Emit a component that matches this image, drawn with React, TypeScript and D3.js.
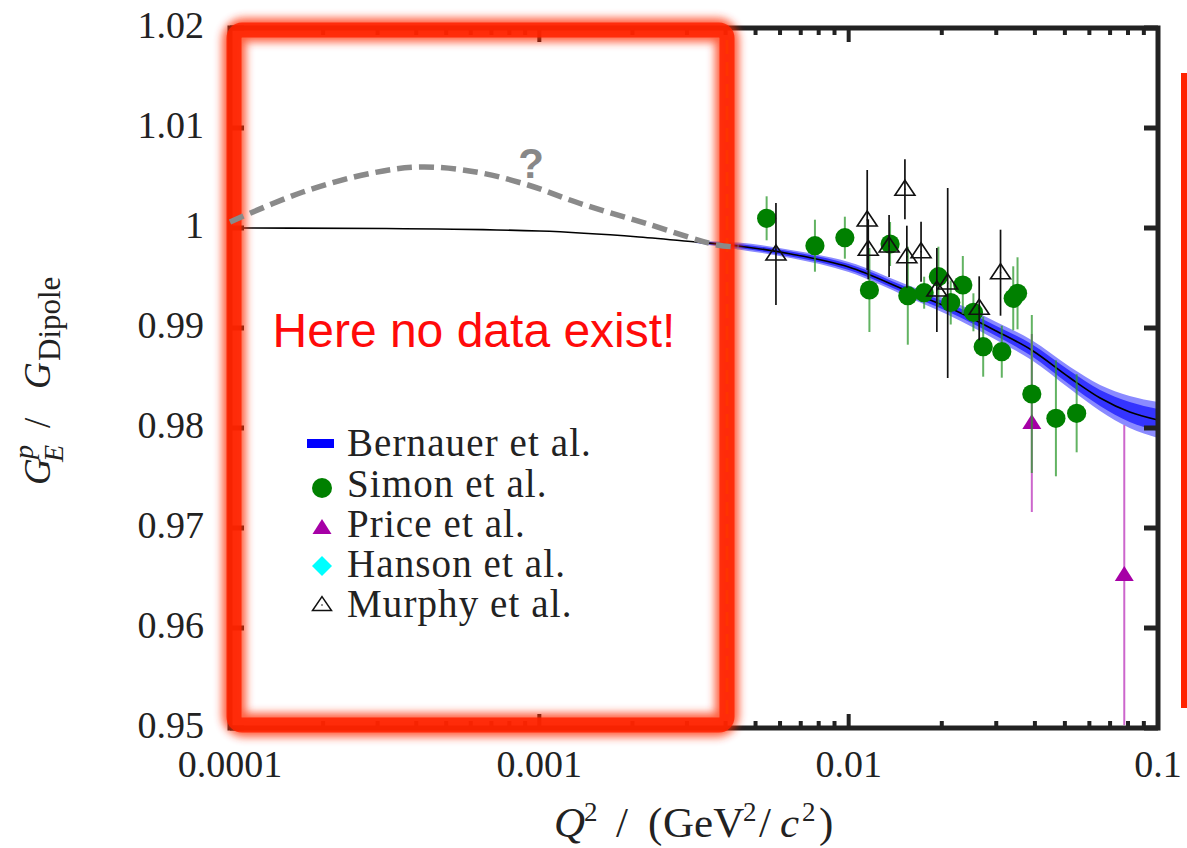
import React from "react";
import * as d3 from "d3";

// ---------- data ----------
const xTickValues = [1e-4, 1e-3, 1e-2, 1e-1];
const xTickLabels = ["0.0001", "0.001", "0.01", "0.1"];
const yTickValues = [0.95, 0.96, 0.97, 0.98, 0.99, 1.0, 1.01, 1.02];
const yTickLabels = ["0.95", "0.96", "0.97", "0.98", "0.99", "1", "1.01", "1.02"];

// Bernauer et al. fit (line + uncertainty band)
const bernQ2 = [1e-4, 3.2e-4, 1e-3, 2.1e-3, 3.2e-3, 4.4e-3, 6.5e-3, 0.01, 0.0155, 0.023, 0.03, 0.039, 0.052, 0.065, 0.081, 0.1];
const bernG = [1.0, 0.99995, 0.9997, 0.9991, 0.9986, 0.9982, 0.9974, 0.9961, 0.9937, 0.9915, 0.9897, 0.9878, 0.985, 0.983, 0.9816, 0.9808];
const bernOuter = [0, 0, 0, 0, 0.0001, 0.00035, 0.0004, 0.0005, 0.0006, 0.0008, 0.0009, 0.001, 0.0011, 0.0013, 0.0016, 0.0018];
const bernInner = [0, 0, 0, 0, 0.00005, 0.0002, 0.00025, 0.0003, 0.00035, 0.00045, 0.0005, 0.0006, 0.0007, 0.0008, 0.001, 0.0011];

// Speculative curve "?"
const specQ2 = [1e-4, 1.72e-4, 2.88e-4, 4.15e-4, 6.24e-4, 9.19e-4, 1.34e-3, 2.24e-3, 3.76e-3, 4.4e-3];
const specG = [1.0006, 1.0036, 1.0055, 1.0061, 1.0056, 1.0043, 1.0025, 1.0004, 0.9983, 0.9981];

// Simon et al.
const simonQ2 = [0.00543, 0.00778, 0.00972, 0.01361, 0.01167, 0.01553, 0.01754, 0.0195, 0.02138, 0.02339, 0.02531, 0.02722, 0.03126, 0.03404, 0.03515, 0.03909, 0.04677, 0.05458];
const simonG = [1.00097, 0.99823, 0.99903, 0.9984, 0.9938, 0.99323, 0.99353, 0.99513, 0.99255, 0.9943, 0.99157, 0.98813, 0.98763, 0.99297, 0.99347, 0.9834, 0.98097, 0.98147];
const simonErr = [0.0022, 0.0026, 0.0021, 0.0022, 0.0042, 0.0049, 0.0016, 0.003, 0.0022, 0.0029, 0.0019, 0.003, 0.0026, 0.0032, 0.0036, 0.0079, 0.0058, 0.0039];

// Price et al.
const priceQ2 = [0.03909, 0.0778];
const priceG = [0.9805, 0.9653];
const priceErr = [0.0089, 0.015];

// Hanson et al. (no points in range)
const hansonQ2: number[] = [];
const hansonG: number[] = [];
const hansonErr: number[] = [];

// Murphy et al.
const murphyQ2 = [0.00582, 0.01148, 0.01157, 0.0152, 0.01351, 0.01542, 0.01714, 0.01928, 0.0209, 0.02642, 0.03097];
const murphyG = [0.9974, 1.0008, 0.99787, 1.00387, 0.9982, 0.99713, 0.99763, 0.9938, 0.9945, 0.99197, 0.99553];
const murphyErr = [0.0051, 0.005, 0.003, 0.003, 0.0031, 0.0031, 0.003, 0.0042, 0.0095, 0.0032, 0.0043];

const legendLabels = ["Bernauer et al.", "Simon et al.", "Price et al.", "Hanson et al.", "Murphy et al."];

// ---------- layout ----------
const W = 1187;
const H = 848;
const L = 230, R = 1158, T = 28, B = 728;
const SERIF = "'Liberation Serif', 'Times New Roman', serif";
const SANS = "'Liberation Sans', Arial, sans-serif";

export default function App() {
  const x = d3.scaleLog().domain([1e-4, 0.1]).range([L, R]);
  const y = d3.scaleLinear().domain([0.95, 1.02]).range([B, T]);

  const minorTicks: number[] = [];
  for (let e = -4; e < -1; e++) {
    for (let m = 2; m <= 9; m++) minorTicks.push(m * Math.pow(10, e));
  }

  const bern = bernQ2.map((q, i) => ({ q, g: bernG[i], o: bernOuter[i], n: bernInner[i] }));
  const bandPts = bern.filter((d) => d.q >= 3.2e-3);
  const line = d3.line<{ q: number; g: number }>().x((d) => x(d.q)).y((d) => y(d.g)).curve(d3.curveMonotoneX);
  const outerArea = d3.area<any>().x((d) => x(d.q)).y0((d) => y(d.g - d.o)).y1((d) => y(d.g + d.o)).curve(d3.curveMonotoneX);
  const innerArea = d3.area<any>().x((d) => x(d.q)).y0((d) => y(d.g - d.n)).y1((d) => y(d.g + d.n)).curve(d3.curveMonotoneX);
  const spec = specQ2.map((q, i) => ({ q, g: specG[i] }));
  const specLine = d3.line<{ q: number; g: number }>().x((d) => x(d.q)).y((d) => y(d.g)).curve(d3.curveCatmullRom);

  const triPath = (cx: number, cy: number, w: number, h: number) =>
    `M${cx},${cy - h * 0.6} L${cx + w / 2},${cy + h * 0.4} L${cx - w / 2},${cy + h * 0.4} Z`;

  const clampY = (v: number) => Math.max(0.95, Math.min(1.02, v));

  const legX = 322;
  const legY = [441, 482, 522, 562, 602];

  return (
    <svg width={W} height={H} style={{ position: "absolute", left: 0, top: 0, background: "#fff" }}>
      <defs>
        <filter id="glow" x="-10%" y="-10%" width="120%" height="120%">
          <feGaussianBlur stdDeviation="4" />
        </filter>
        <filter id="soft" x="-5%" y="-20%" width="110%" height="140%">
          <feGaussianBlur stdDeviation="0.7" />
        </filter>
        <clipPath id="plotClip">
          <rect x={L} y={T} width={R - L} height={B - T} />
        </clipPath>
      </defs>

      {/* band + Bernauer line */}
      <g clipPath="url(#plotClip)">
        <path d={outerArea(bandPts) || ""} fill="#8a8aff" />
        <path d={innerArea(bandPts) || ""} fill="#3434ff" />
        <path d={line(bern) || ""} fill="none" stroke="#000" strokeWidth={1.6} />
      </g>

      {/* Price error bars and markers */}
      <g clipPath="url(#plotClip)">
        {priceQ2.map((q, i) => (
          <line key={"pe" + i} x1={x(q)} x2={x(q)} y1={y(clampY(priceG[i] + priceErr[i]))} y2={y(clampY(priceG[i] - priceErr[i]))} stroke="#cc66cc" strokeWidth={2} />
        ))}
        {priceQ2.map((q, i) => (
          <path key={"pm" + i} d={triPath(x(q), y(priceG[i]), 19, 15)} fill="#a600a6" />
        ))}
      </g>

      {/* Hanson (none in range) */}
      <g clipPath="url(#plotClip)">
        {hansonQ2.map((q, i) => (
          <g key={"h" + i}>
            <line x1={x(q)} x2={x(q)} y1={y(hansonG[i] + hansonErr[i])} y2={y(hansonG[i] - hansonErr[i])} stroke="#00cccc" strokeWidth={2} />
            <path d={`M${x(q)},${y(hansonG[i]) - 10} l10,10 l-10,10 l-10,-10 Z`} fill="#00ffff" />
          </g>
        ))}
      </g>

      {/* Simon */}
      <g>
        {simonQ2.map((q, i) => (
          <line key={"se" + i} x1={x(q)} x2={x(q)} y1={y(simonG[i] + simonErr[i])} y2={y(simonG[i] - simonErr[i])} stroke="#2e9a2e" strokeOpacity={0.75} strokeWidth={2} />
        ))}
        {simonQ2.map((q, i) => (
          <circle key={"sm" + i} cx={x(q)} cy={y(simonG[i])} r={9.6} fill="#008000" />
        ))}
      </g>

      {/* Murphy */}
      <g>
        {murphyQ2.map((q, i) => (
          <line key={"me" + i} x1={x(q)} x2={x(q)} y1={y(murphyG[i] + murphyErr[i])} y2={y(murphyG[i] - murphyErr[i])} stroke="#111" strokeWidth={1.7} />
        ))}
        {murphyQ2.map((q, i) => (
          <g key={"mm" + i}>
            <path d={triPath(x(q), y(murphyG[i]), 20, 15)} fill="none" stroke="#111" strokeWidth={1.6} />
            <circle cx={x(q)} cy={y(murphyG[i])} r={0.8} fill="#111" />
          </g>
        ))}
      </g>

      {/* frame */}
      <rect x={L} y={T} width={R - L} height={B - T} fill="none" stroke="#222" strokeWidth={5} />
      {/* x ticks */}
      {xTickValues.map((v, i) => (
        <g key={"xt" + i}>
          <line x1={x(v)} x2={x(v)} y1={B} y2={B - 14} stroke="#222" strokeWidth={4} />
          <line x1={x(v)} x2={x(v)} y1={T} y2={T + 14} stroke="#222" strokeWidth={4} />
          <text x={x(v)} y={777} textAnchor="middle" fontFamily={SERIF} fontSize={38} fill="#222">
            {xTickLabels[i]}
          </text>
        </g>
      ))}
      {minorTicks.map((v, i) => (
        <g key={"mt" + i}>
          <line x1={x(v)} x2={x(v)} y1={B} y2={B - 7} stroke="#222" strokeWidth={4} />
          <line x1={x(v)} x2={x(v)} y1={T} y2={T + 7} stroke="#222" strokeWidth={4} />
        </g>
      ))}
      {/* y ticks */}
      {yTickValues.map((v, i) => (
        <g key={"yt" + i}>
          <line x1={L} x2={L + 14} y1={y(v)} y2={y(v)} stroke="#222" strokeWidth={5} />
          <line x1={R} x2={R - 14} y1={y(v)} y2={y(v)} stroke="#222" strokeWidth={5} />
          <text x={204} y={y(v) + 10} textAnchor="end" fontFamily={SERIF} fontSize={38} fill="#222">
            {yTickLabels[i]}
          </text>
        </g>
      ))}

      {/* red box */}
      <rect x={234} y={30} width={493} height={695} rx={10} fill="none" stroke="#ff2a00" strokeWidth={24} opacity={0.75} filter="url(#glow)" />
      <rect x={234} y={30} width={493} height={695} rx={8} fill="none" stroke="#ff2200" strokeWidth={15} opacity={0.85} />
      <line x1={727} x2={727} y1={40} y2={716} stroke="#ff3300" strokeWidth={3} strokeDasharray="14 8" />

      {/* speculative curve */}
      <path d={specLine(spec) || ""} fill="none" stroke="#8a8a8a" strokeWidth={5.5} strokeDasharray="15 7" filter="url(#soft)" />
      <text x={531} y={178} textAnchor="middle" fontFamily={SANS} fontWeight="bold" fontSize={42} fill="#888">?</text>

      {/* annotation */}
      <text x={474} y={347} textAnchor="middle" fontFamily={SANS} fontSize={48} fill="#ff0a0a">Here no data exist!</text>

      {/* right red bar */}
      <rect x={1181} y={73} width={7} height={635} fill="#ff2200" />

      {/* legend */}
      <g>
        <rect x={legX - 15} y={legY[0] - 2} width={27} height={9} fill="#0000ff" />
        <circle cx={legX} cy={legY[1] + 6} r={10} fill="#008000" />
        <path d={triPath(legX, legY[2] + 6, 19, 15)} fill="#a600a6" />
        <path d={`M${legX},${legY[3] - 6} l10,10 l-10,10 l-10,-10 Z`} fill="#00ffff" />
        <path d={triPath(legX, legY[4] + 3, 19, 14)} fill="none" stroke="#111" strokeWidth={1.5} />
        <circle cx={legX} cy={legY[4] + 3} r={0.8} fill="#111" />
        {legendLabels.map((s, i) => (
          <text key={"lg" + i} x={347} y={legY[i] + 15} fontFamily={SERIF} fontSize={39} letterSpacing={1.1} fill="#222">
            {s}
          </text>
        ))}
      </g>

      {/* y axis title */}
      <g transform="translate(50,0) rotate(-90)" fontFamily={SERIF} fill="#222">
        <text x={-485} y={0} fontSize={37} fontStyle="italic">G</text>
        <text x={-459} y={-17} fontSize={28} fontStyle="italic">p</text>
        <text x={-462} y={13} fontSize={28} fontStyle="italic">E</text>
        <text x={-428} y={0} fontSize={37}>/</text>
        <text x={-389} y={0} fontSize={37} fontStyle="italic">G</text>
        <text x={-361} y={10} fontSize={31}>Dipole</text>
      </g>

      {/* x axis title */}
      <g fontFamily={SERIF} fill="#222">
        <text x={554} y={837} fontSize={43} fontStyle="italic">Q</text>
        <text x={584} y={821} fontSize={27}>2</text>
        <text x={616} y={837} fontSize={43}>/</text>
        <text x={648} y={837} fontSize={43}>(</text>
        <text x={663} y={837} fontSize={43}>GeV</text>
        <text x={743} y={821} fontSize={27}>2</text>
        <text x={759} y={837} fontSize={43}>/</text>
        <text x={780} y={837} fontSize={43} fontStyle="italic">c</text>
        <text x={802} y={821} fontSize={27}>2</text>
        <text x={819} y={837} fontSize={43}>)</text>
      </g>
    </svg>
  );
}
